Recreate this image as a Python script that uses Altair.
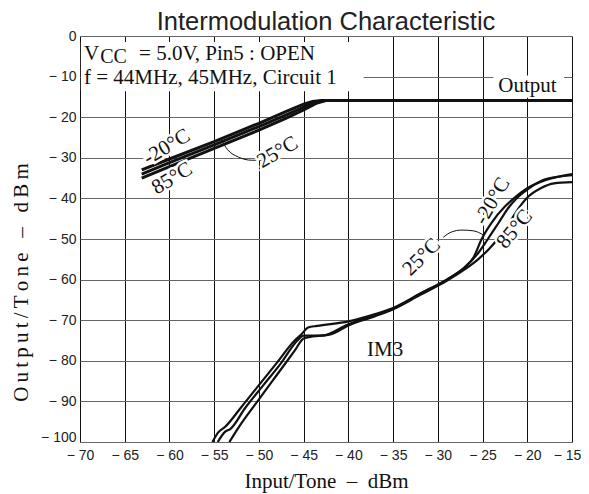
import altair as alt
import pandas as pd

# ---------------- data ----------------
x_ticks = [-70, -65, -60, -55, -50, -45, -40, -35, -30, -25, -20, -15]
y_ticks = [0, -10, -20, -30, -40, -50, -60, -70, -80, -90, -100]

out_m20_x = [-63.1, -60, -55, -50, -47, -45, -44, -43, -15]
out_m20_y = [-33.0, -30.3, -26.0, -21.5, -18.6, -16.8, -16.1, -15.9, -15.9]
out_25_x = [-63.1, -60, -55, -50, -47, -45, -44, -42.8, -15]
out_25_y = [-34.0, -31.2, -26.8, -22.3, -19.5, -17.5, -16.5, -15.9, -15.9]
out_85_x = [-63.1, -60, -55, -50, -47, -45, -43.5, -42.5, -15]
out_85_y = [-35.0, -32.2, -27.7, -23.2, -20.3, -18.2, -16.5, -15.9, -15.9]

im3_m20_x = [-55.2, -54.5, -53.8, -52, -50, -48, -46, -45.3, -44.5, -43.5, -40, -37, -35, -32, -29, -27, -26, -25.1, -24, -22.5, -21.5, -20, -18, -15]
im3_m20_y = [-100, -97.5, -96.3, -91.5, -86, -80.5, -75, -73.6, -71.8, -71.4, -70.3, -68.5, -67, -63.5, -60, -57, -54.5, -50, -46, -42, -40, -37.5, -35.5, -34]
im3_25_x = [-54.6, -53.8, -53.2, -51.5, -49.5, -47.5, -45.7, -45, -43, -40, -37, -35, -32, -29, -27, -25.5, -24.4, -23.2, -22, -21.2, -19.8, -18, -15]
im3_25_y = [-100, -97.5, -96.8, -91.5, -86, -80.5, -75, -73.8, -73.8, -71, -68.8, -67.2, -63.5, -60, -57, -53.5, -50, -46, -42, -40, -37.5, -35.3, -34.3]
im3_85_x = [-53.3, -52.3, -50, -48, -46, -45, -44, -42, -40, -37, -35, -32, -29, -27, -25.5, -24.3, -23.3, -22, -21, -20.1, -18.5, -17, -15]
im3_85_y = [-100, -96.5, -89.5, -83.5, -77.5, -74.5, -74, -73.5, -71.3, -69, -67.3, -63.8, -60.3, -57.5, -55, -52.5, -50, -46, -42.5, -40, -37.5, -36.3, -36]

lead_out_x = [-54.2, -53.5, -52.3, -50.8, -49.6]
lead_out_y = [-25.6, -28.0, -29.8, -30.6, -30.6]
lead_im3_x = [-29.4, -28.5, -27.3, -26.0, -24.9]
lead_im3_y = [-49.6, -48.3, -47.8, -48.0, -49.0]

temp_text = ["-20°C", "85°C", "25°C", "25°C", "-20°C", "85°C"]
temp_x = [-60.3, -59.7, -47.9, -31.8, -23.9, -21.4]
temp_y = [-27.4, -35.1, -28.7, -54.5, -40.7, -47.6]
temp_angle = [329, 329, 330, 315, 300, 310]

plain_text = ["IM3", "Output"]
plain_x = [-35.9, -19.97]
plain_y = [-77.4, -12.2]

cond_text = ["V", "= 5.0V, Pin5 : OPEN", "f = 44MHz, 45MHz, Circuit 1"]
cond_x = [-69.55, -63.4, -69.55]
cond_y = [-5.8, -5.8, -11.8]
sub_text = ["CC"]
sub_x = [-67.75]
sub_y = [-6.6]

box_x = [-69.9, -23.8]
box_x2 = [-38.3, -15.9]
box_y = [-1.5, -9.7]
box_y2 = [-13.6, -15.2]

x_title = "Input/Tone\u2002\u2013\u2002dBm"
y_title = "\u2009".join("Output/Tone") + "\u2002\u2009\u2013\u2002\u2009" + "\u2009".join("dBm")

# ---------------- tables ----------------
def series_df(xs, ys, name):
    return pd.DataFrame({"x": xs, "y": ys, "s": name, "o": list(range(len(xs)))})

out_df = pd.concat([series_df(out_m20_x, out_m20_y, "o-20"),
                    series_df(out_25_x, out_25_y, "o25"),
                    series_df(out_85_x, out_85_y, "o85")])
im3_df = pd.concat([series_df(im3_m20_x, im3_m20_y, "i-20"),
                    series_df(im3_25_x, im3_25_y, "i25"),
                    series_df(im3_85_x, im3_85_y, "i85")])
lead_df = pd.concat([series_df(lead_out_x, lead_out_y, "lo"),
                     series_df(lead_im3_x, lead_im3_y, "li")])
temp_df = pd.DataFrame({"t": temp_text, "x": temp_x, "y": temp_y, "a": temp_angle})
plain_df = pd.DataFrame({"t": plain_text, "x": plain_x, "y": plain_y})
cond_df = pd.DataFrame({"t": cond_text, "x": cond_x, "y": cond_y})
sub_df = pd.DataFrame({"t": sub_text, "x": sub_x, "y": sub_y})
box_df = pd.DataFrame({"x": box_x, "x2": box_x2, "y": box_y, "y2": box_y2})

xs = alt.Scale(domain=[-70, -15], nice=False, zero=False)
ys = alt.Scale(domain=[-100, 0], nice=False, zero=False)

lab_expr = "datum.value < 0 ? '\u2212 ' + abs(datum.value) : datum.label"

X = alt.X("x:Q", scale=xs,
          axis=alt.Axis(values=x_ticks, title=x_title, labelExpr=lab_expr, labelFlush=False,
                        labelOffset={"condition": {"test": "datum.value === -15", "value": -5}, "value": 0},
                        grid=True, gridColor="#111", gridWidth=1, domain=False, ticks=False,
                        labelPadding=6, labelFont="Liberation Sans", labelFontSize=14,
                        labelColor="#222", titleFont="Liberation Serif", titleFontSize=21,
                        titleFontWeight="normal", titleColor="#111", titlePadding=8))
Y = alt.Y("y:Q", scale=ys,
          axis=alt.Axis(values=y_ticks, title=y_title, labelExpr=lab_expr, labelFlush=False,
                        labelOffset={"condition": {"test": "datum.value === -100", "value": -5}, "value": 0},
                        grid=True, gridColor="#666", gridWidth=1.2, domain=False, ticks=False,
                        labelPadding=4, labelFont="Liberation Sans", labelFontSize=14,
                        labelColor="#222", titleFont="Liberation Serif", titleFontSize=21,
                        titleFontWeight="normal", titleColor="#111",
                        titleAngle=270, titleAlign="center", titleBaseline="alphabetic",
                        titleX=-53, titleY=246))

base_x = alt.X("x:Q", scale=xs)
base_y = alt.Y("y:Q", scale=ys)

boxes = alt.Chart(box_df).mark_rect(color="white").encode(
    x=X, x2="x2:Q", y=Y, y2="y2:Q")

out_lines = alt.Chart(out_df).mark_line(color="#111", strokeWidth=3).encode(
    x=base_x, y=base_y, detail="s:N", order="o:Q")
im3_lines = alt.Chart(im3_df).mark_line(color="#111", strokeWidth=2.2, interpolate="monotone").encode(
    x=base_x, y=base_y, detail="s:N", order="o:Q")
leads = alt.Chart(lead_df).mark_line(color="#111", strokeWidth=1, interpolate="monotone").encode(
    x=base_x, y=base_y, detail="s:N", order="o:Q")

serif = "Liberation Serif"
temp_halo = alt.Chart(temp_df).mark_text(font=serif, fontSize=21, color="white", stroke="white",
                                         strokeWidth=5, align="center", baseline="middle").encode(
    x=base_x, y=base_y, text="t:N", angle=alt.Angle("a:Q", scale=None))
temp_txt = alt.Chart(temp_df).mark_text(font=serif, fontSize=21, color="#111",
                                        align="center", baseline="middle").encode(
    x=base_x, y=base_y, text="t:N", angle=alt.Angle("a:Q", scale=None))
plain_txt = alt.Chart(plain_df).mark_text(font=serif, fontSize=21, color="#111",
                                          align="center", baseline="middle").encode(
    x=base_x, y=base_y, text="t:N")
cond_txt = alt.Chart(cond_df).mark_text(font=serif, fontSize=21, color="#111",
                                        align="left", baseline="alphabetic").encode(
    x=base_x, y=base_y, text="t:N")
sub_txt = alt.Chart(sub_df).mark_text(font=serif, fontSize=20, color="#111",
                                      align="left", baseline="alphabetic").encode(
    x=base_x, y=base_y, text="t:N")

chart = alt.layer(boxes, out_lines, im3_lines, leads, temp_halo, temp_txt, plain_txt,
                  cond_txt, sub_txt).properties(
    width=492, height=406,
    title=alt.TitleParams("Intermodulation Characteristic", font="Liberation Sans", fontSize=25.5,
                          fontWeight="normal", color="#222", anchor="middle", offset=6, dy=12),
    autosize=alt.AutoSizeParams(type="none"),
    padding={"left": 72, "top": 28, "right": 9, "bottom": 58},
).configure_view(stroke="#111", strokeWidth=1.6).configure(background="white")

chart.save("out.html", embed_options={"renderer": "svg", "actions": False})
